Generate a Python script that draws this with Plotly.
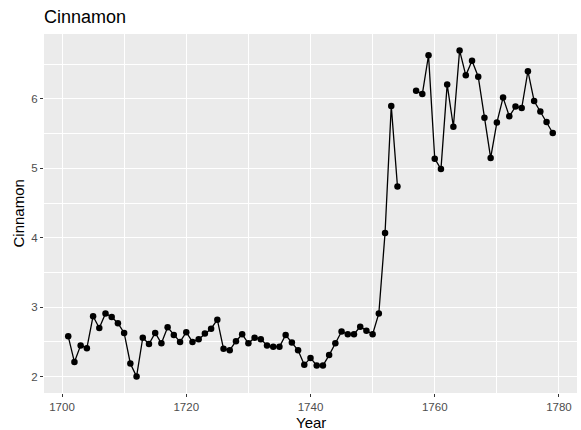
import plotly.graph_objects as go

years = list(range(1701, 1780))
cinnamon = [
    2.58, 2.21, 2.45, 2.41, 2.87, 2.70, 2.91, 2.86, 2.77, 2.63,  # 1701-1710
    2.19, 2.00, 2.56, 2.47, 2.63, 2.48, 2.71, 2.60, 2.50, 2.64,  # 1711-1720
    2.50, 2.54, 2.62, 2.69, 2.82, 2.40, 2.38, 2.51, 2.61, 2.48,  # 1721-1730
    2.56, 2.54, 2.45, 2.43, 2.43, 2.60, 2.49, 2.38, 2.17, 2.27,  # 1731-1740
    2.16, 2.16, 2.31, 2.48, 2.65, 2.61, 2.61, 2.72, 2.66, 2.61,  # 1741-1750
    2.91, 4.07, 5.90, 4.74, None, None, 6.12, 6.07, 6.63, 5.14,  # 1751-1760
    4.99, 6.21, 5.60, 6.70, 6.34, 6.55, 6.32, 5.73, 5.15, 5.66,  # 1761-1770
    6.02, 5.75, 5.89, 5.87, 6.40, 5.97, 5.82, 5.67, 5.51,        # 1771-1779
]
x_ticks = [1700, 1720, 1740, 1760, 1780]
y_ticks = [2, 3, 4, 5, 6]

FONT = "Liberation Sans, Arial, sans-serif"

fig = go.Figure()
fig.add_trace(go.Scatter(
    x=years, y=cinnamon, mode="lines+markers",
    line=dict(color="black", width=1.3),
    marker=dict(color="black", size=6.5),
    connectgaps=False, showlegend=False,
))

fig.update_layout(
    width=581, height=430,
    margin=dict(l=44, r=4, t=34, b=37, autoexpand=False),
    paper_bgcolor="white", plot_bgcolor="#EBEBEB",
    font=dict(family=FONT, color="black"),
    title=dict(text="Cinnamon", x=44/581, xanchor="left", xref="container",
               y=1 - 17/430, yanchor="middle", yref="container",
               font=dict(size=18, color="black", family=FONT)),
    annotations=[
        dict(text="Year", xref="paper", yref="paper", x=0.5, y=0,
             xanchor="center", yanchor="middle", yshift=-29, showarrow=False,
             font=dict(size=15, color="black", family=FONT)),
        dict(text="Cinnamon", xref="paper", yref="paper", x=0, y=0.5,
             xanchor="center", yanchor="middle", xshift=-26, textangle=-90, showarrow=False,
             font=dict(size=15, color="black", family=FONT)),
    ],
)

fig.update_xaxes(
    range=[1697.1, 1782.9], tickvals=x_ticks, ticktext=[str(v) for v in x_ticks],
    showgrid=True, gridcolor="white", gridwidth=1.2,
    minor=dict(dtick=10, tick0=1700, showgrid=True, gridcolor="white", gridwidth=0.6, ticks=""),
    ticks="outside", ticklen=3, tickcolor="#333333", tickwidth=1,
    tickfont=dict(size=11.5, color="#4D4D4D", family=FONT),
    zeroline=False, showline=False, automargin=False,
)
fig.update_yaxes(
    range=[1.764, 6.936], tickvals=y_ticks, ticktext=[str(v) for v in y_ticks],
    showgrid=True, gridcolor="white", gridwidth=1.2,
    minor=dict(dtick=0.5, tick0=2, showgrid=True, gridcolor="white", gridwidth=0.6, ticks=""),
    ticks="outside", ticklen=3, tickcolor="#333333", tickwidth=1,
    tickfont=dict(size=11.5, color="#4D4D4D", family=FONT),
    zeroline=False, showline=False, automargin=False,
)

fig.write_html("out.html", config={"displayModeBar": False},
               post_script="document.body.style.margin='0';")
